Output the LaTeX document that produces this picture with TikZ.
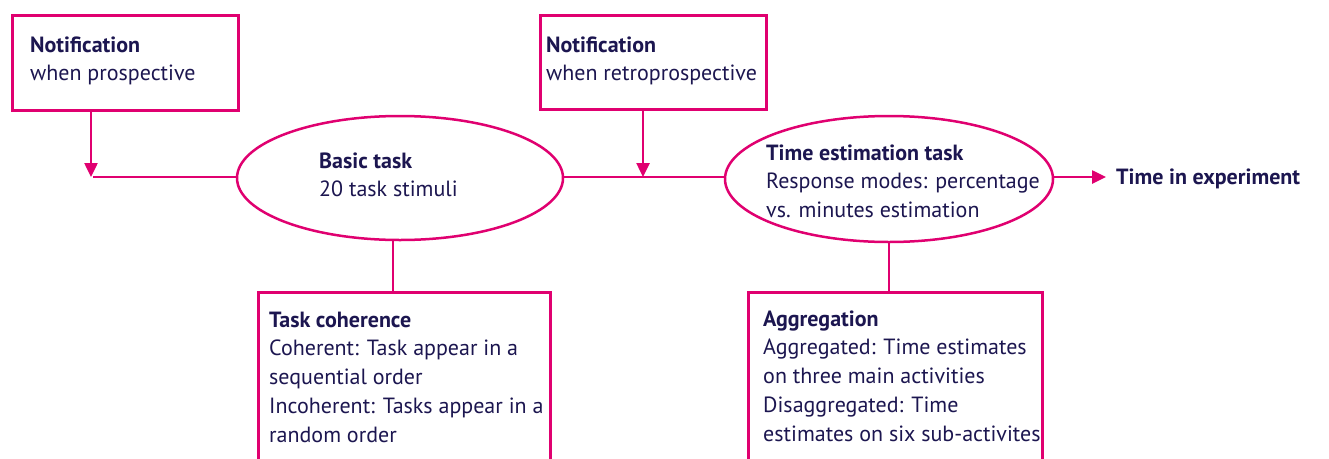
\documentclass[tikz,border=0pt]{standalone}
\usepackage{fontspec}
\setmainfont{PT Sans}
\usetikzlibrary{arrows.meta,shapes.geometric}
\definecolor{pinkc}{RGB}{224,0,112}
\definecolor{navy}{RGB}{28,22,80}
\newcommand{\mlines}[1]{\begin{tabular}[t]{@{}l@{}}#1\end{tabular}}
\begin{document}
\begin{tikzpicture}[x=1pt,y=-1pt,
  box/.style={draw=pinkc, line width=2.5pt, rectangle, inner sep=0pt, anchor=north west},
  oval/.style={draw=pinkc, line width=2.5pt, ellipse, inner sep=0pt},
  txt/.style={text=navy, font=\fontsize{22}{28.8}\selectfont, anchor=base west, inner sep=0pt},
  conn/.style={draw=pinkc, line width=2.5pt},
  arr/.style={conn, -{Triangle[length=14pt,width=13pt]}}]
\clip (0,0) rectangle (1329,458);
\fill[white] (0,0) rectangle (1329,458);
% boxes
\node[box, minimum width=226pt, minimum height=95pt] (n1) at (11,14) {};
\node[box, minimum width=226pt, minimum height=94pt] (n2) at (539,14) {};
\node[box, minimum width=292pt, minimum height=300pt] (n3) at (257,291) {};
\node[box, minimum width=294pt, minimum height=300pt] (n4) at (747,291) {};
% ellipses
\node[oval, minimum width=326pt, minimum height=124pt] (e1) at (400,178) {};
\node[oval, minimum width=328pt, minimum height=126pt] (e2) at (889,179) {};
% texts
\node[txt] (t1) at (30,52) {\mlines{\textbf{Notification}\\when prospective}};
\node[txt] (t2) at (546,52) {\mlines{\textbf{Notification}\\when retroprospective}};
\node[txt] (t3) at (319,168) {\mlines{\textbf{Basic task}\\20 task stimuli}};
\node[txt] (t4) at (766,160) {\mlines{\textbf{Time estimation task}\\Response modes: percentage\\vs. minutes estimation}};
\node[txt] (t5) at (269,327) {\mlines{\textbf{Task coherence}\\Coherent: Task appear in a\\sequential order\\Incoherent: Tasks appear in a\\random order}};
\node[txt] (t6) at (763,326) {\mlines{\textbf{Aggregation}\\Aggregated: Time estimates\\on three main activities\\Disaggregated: Time\\estimates on six sub-activites}};
\node[txt, anchor=west] (out) at (1116,179) {\textbf{Time in experiment}};
% connectors
\coordinate (j1) at (91,177);
\coordinate (j2) at (643,177);
\coordinate (v1) at (393,0);
\draw[arr] (n1.south -| j1) -- (j1);
\draw[conn] ([xshift=2pt]j1) -- (j1 -| e1.west);
\draw[arr] (n2.south -| j2) -- (j2);
\draw[conn] (j2 -| e1.east) -- (j2 -| e2.west);
\draw[arr] (j2 -| e2.east) -- ([xshift=-10pt]out.west |- j2);
\draw[conn] (e1.south -| v1) -- (n3.north -| v1);
\draw[conn] (e2.south) -- (n4.north -| e2.south);
\end{tikzpicture}
\end{document}
